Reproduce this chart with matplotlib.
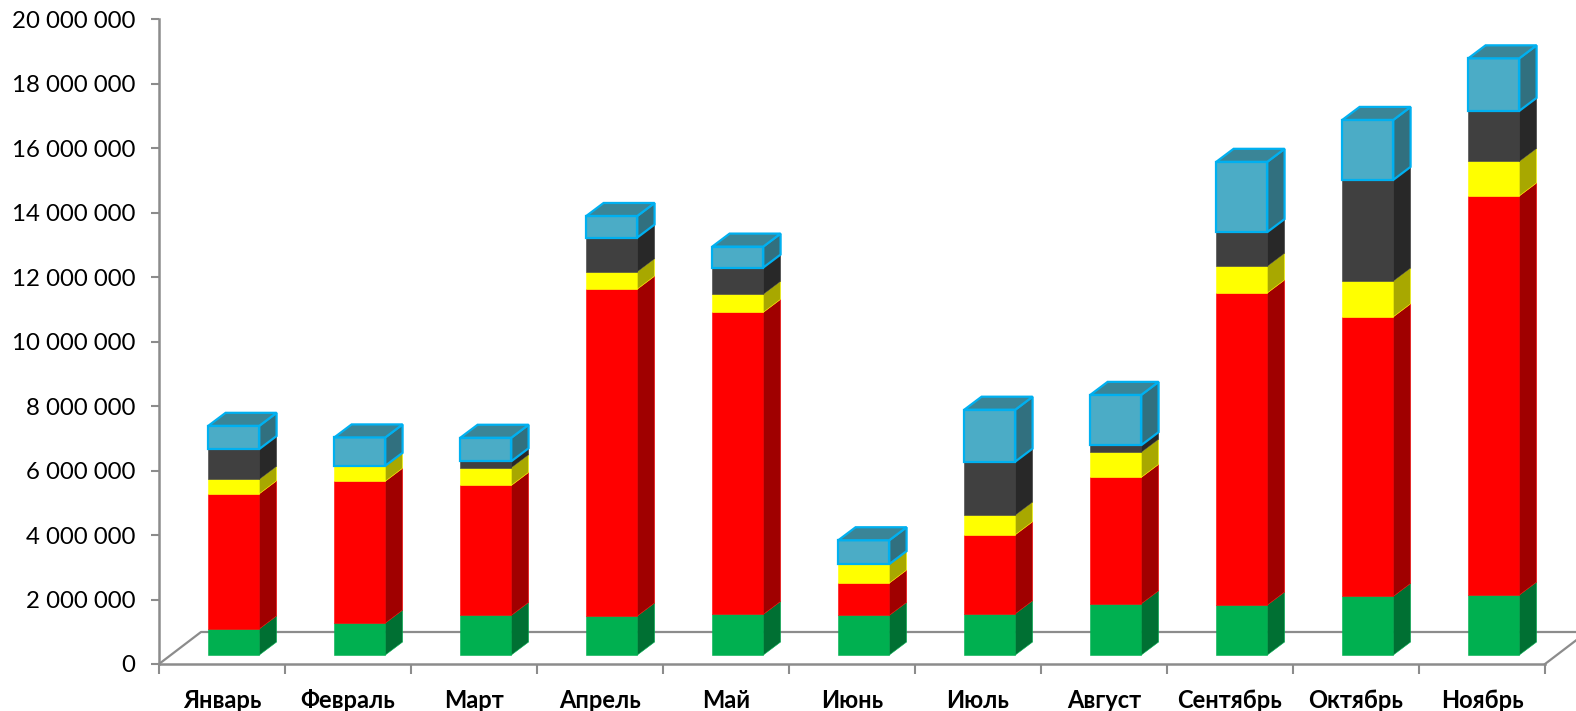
import matplotlib
matplotlib.use('Agg')
import matplotlib.pyplot as plt
from matplotlib.patches import Polygon
import numpy as np

plt.rcParams['font.family'] = ['Lato', 'DejaVu Sans']

# ---- data (values in units) ----
cats = ['Январь', 'Февраль', 'Март', 'Апрель', 'Май', 'Июнь', 'Июль',
        'Август', 'Сентябрь', 'Октябрь', 'Ноябрь']
green = [0.81, 0.99, 1.23, 1.21, 1.26, 1.23, 1.28, 1.59, 1.55, 1.82, 1.86]
red = [4.19, 4.40, 4.03, 10.14, 9.37, 1.00, 2.45, 3.92, 9.68, 8.67, 12.38]
yellow = [0.45, 0.48, 0.55, 0.54, 0.56, 0.59, 0.61, 0.78, 0.83, 1.11, 1.07]
dark = [0.94, 0.00, 0.20, 1.06, 0.83, 0.00, 1.66, 0.22, 1.06, 3.14, 1.57]
blue = [0.72, 0.88, 0.73, 0.67, 0.65, 0.74, 1.61, 1.56, 2.18, 1.86, 1.63]
scale = 1e6
yticks = np.arange(0, 20e6 + 1, 2e6)

series = [green, red, yellow, dark, blue]
front_cols = ['#00B050', '#FF0000', '#FFFF00', '#404040', '#4BACC6']
side_cols = ['#007033', '#A00000', '#A8A800', '#282828', '#31707F']
top_cols = ['#00903F', '#C00000', '#D0D000', '#333333', '#3A8597']
edge_cols = [None, None, None, None, '#00B0F0']

W, H = 1576, 711
fig = plt.figure(figsize=(W / 100, H / 100), dpi=100)
x0p, x1p = 159, 1545
y0p, y1p = 664, 19.3
ax = fig.add_axes([x0p / W, 1 - y0p / H, (x1p - x0p) / W, (y0p - y1p) / H])
n = len(cats)
ax.set_xlim(-0.5, n - 0.5)
ax.set_ylim(0, 20e6)

pxu = (x1p - x0p) / n
pxv = (y0p - y1p) / 20e6
def dxu(px):
    return px / pxu
def dyv(px):
    return px / pxv

floor_dx, floor_dy = dxu(42), dyv(32)
off_x, off_y = dxu(11.8), dyv(9)
dep_x, dep_y = dxu(17.3), dyv(13)
bw = dxu(51)

gray = '#8C8C8C'
# floor
ax.plot([-0.5, -0.5 + floor_dx, n - 0.5 + floor_dx], [0, floor_dy, floor_dy],
        color=gray, lw=1.6, clip_on=False, zorder=1, solid_capstyle='butt')
ax.plot([n - 0.5, n - 0.5 + floor_dx], [0, floor_dy],
        color=gray, lw=1.6, clip_on=False, zorder=1)

xs = np.arange(n) + off_x
cum = np.zeros(n)
vals_all = [np.array(s) * scale for s in series]
top_idx = []
for i in range(n):
    t = max(k for k in range(len(series)) if vals_all[k][i] > 0)
    top_idx.append(t)

for k, vals in enumerate(vals_all):
    bottoms = off_y + cum
    ec = edge_cols[k]
    lw = 1.6 if ec else 0.4
    ecol = ec if ec else front_cols[k]
    mask = vals > 0
    ax.bar(xs[mask], vals[mask], width=bw, bottom=bottoms[mask],
           color=front_cols[k], edgecolor=ecol, linewidth=lw, zorder=3 + k,
           clip_on=False)
    for i in range(n):
        v = vals[i]
        if v <= 0:
            continue
        b = bottoms[i]
        xr = xs[i] + bw / 2
        xl = xs[i] - bw / 2
        side = Polygon([(xr, b), (xr + dep_x, b + dep_y), (xr + dep_x, b + v + dep_y), (xr, b + v)],
                       closed=True, facecolor=side_cols[k], edgecolor=ecol, linewidth=lw,
                       zorder=3 + k, clip_on=False)
        ax.add_patch(side)
        if top_idx[i] == k:
            tp = b + v
            top = Polygon([(xl, tp), (xr, tp), (xr + dep_x, tp + dep_y), (xl + dep_x, tp + dep_y)],
                          closed=True, facecolor=top_cols[k], edgecolor=ecol, linewidth=lw,
                          zorder=3 + k, clip_on=False)
            ax.add_patch(top)
    cum = cum + vals

# axes styling
for s in ['top', 'right']:
    ax.spines[s].set_visible(False)
for s in ['left', 'bottom']:
    ax.spines[s].set_color(gray)
    ax.spines[s].set_linewidth(1.8)
    ax.spines[s].set_zorder(1)

ax.set_yticks(yticks)
ax.set_yticklabels([f"{int(v):,}".replace(',', ' ') for v in yticks])
ax.tick_params(axis='y', length=6, width=1.5, color=gray, pad=11, labelsize=17.3,
               labelcolor='black')
ax.set_xticks(np.arange(n))
ax.set_xticklabels(cats, fontweight='bold')
ax.tick_params(axis='x', which='major', length=0, pad=18, labelsize=17)
ax.set_xticks(np.arange(-0.5, n, 1), minor=True)
ax.tick_params(axis='x', which='minor', length=7, width=1.5, color=gray)
ax.patch.set_visible(False)

fig.savefig('out.png', dpi=100)
